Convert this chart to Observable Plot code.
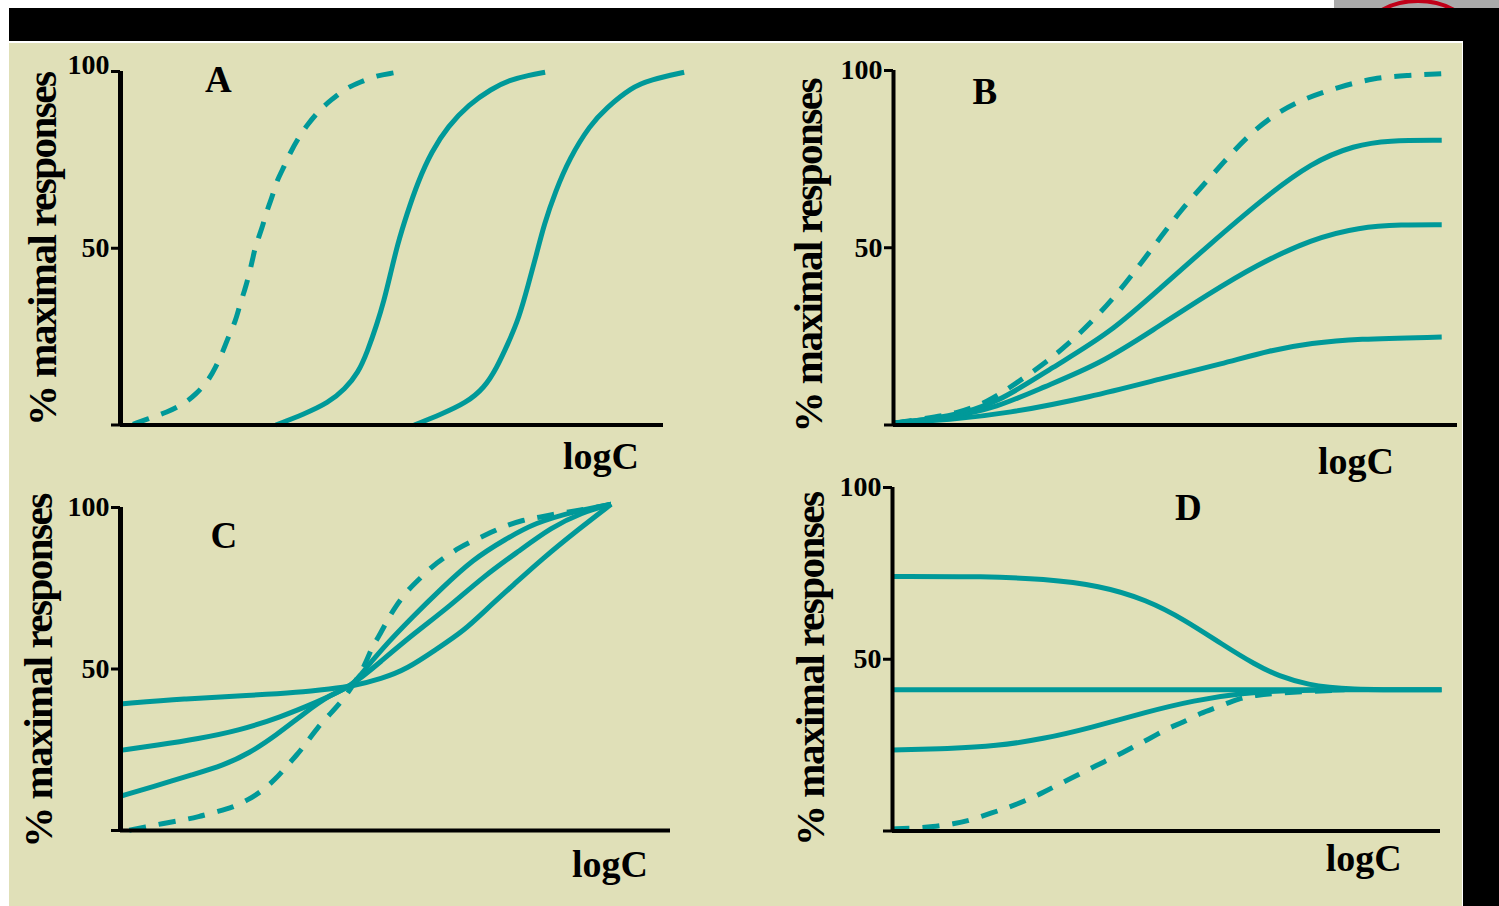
<!DOCTYPE html>
<html>
<head>
<meta charset="utf-8">
<script src="https://cdn.jsdelivr.net/npm/d3@7"></script>
<script src="https://cdn.jsdelivr.net/npm/@observablehq/plot@0.6"></script>
<style>
  html, body { margin: 0; padding: 0; background: #fff; width: 1499px; height: 906px; overflow: hidden; }
  #stage { position: relative; width: 1499px; height: 906px; overflow: hidden; }
  .box { position: absolute; }
  #stage svg { position: absolute; background: transparent; overflow: visible; }
</style>
</head>
<body>
<div id="stage">
  <div class="box" style="left:1334px;top:0;width:165px;height:10px;background:#aaa;overflow:hidden">
    <div class="box" style="left:33px;top:-1px;width:102px;height:60px;border:4px solid #c00018;border-radius:50%;box-sizing:border-box"></div>
  </div>
  <div class="box" style="left:9px;top:8px;width:1490px;height:33px;background:#000"></div>
  <div class="box" style="left:1463px;top:8px;width:36px;height:898px;background:#000"></div>
  <div class="box" style="left:9px;top:41px;width:1453px;height:865px;background:#e0e0b8;border-top:2px solid #fff;border-right:1px solid #fff;box-sizing:content-box"></div>
</div>
<script>
// Values: [logC position on a 0-100 axis, % maximal response]
const yTicks = [0, 50, 100];
const yLabel = "% maximal responses";
const xLabel = "logC";

const aDashed = [[2.3,0.2],[5.7,2.1],[8.4,3.5],[11.7,6],[13.9,8.7],[16.1,12.4],[17.5,16.2],[18.9,20.9],[19.8,24.7],[21.2,29.4],[21.9,33.6],[22.9,38.3],[23.6,42.1],[24.4,47.3],[24.9,51],[26.1,55.7],[26.8,60],[28,64.7],[28.6,68.5],[30.3,73.6],[31.2,76.9],[32.9,81.6],[34.4,84.9],[36.7,89.2],[38.6,91.7],[41.5,95.3],[44,96.9],[47.2,98.9],[50.4,99.6],[51.1,99.9]];
const aMiddle = [[28.6,0],[33.7,3],[38.3,6.3],[41.3,10.1],[43.8,14.8],[45.5,20.9],[47.2,28.4],[48.5,35],[49.7,42.6],[51,51],[52.7,59.5],[54.8,68.9],[57.3,77.4],[60.3,84.5],[64.1,90.6],[68.3,95.1],[71.7,97.6],[75.1,98.9],[78.2,99.8]];
const aRight = [[54.1,0],[59,3],[63.7,6.3],[67,10.5],[69.3,16.2],[71.3,22.8],[73.4,30.3],[75.1,39.7],[76.6,48.2],[78,56.7],[80.1,66.1],[82.7,75.5],[86.5,84.9],[89.4,89.6],[94.1,95.5],[97.5,97.6],[103.8,99.8]];

const bDashed = [[0.3,0.6],[5.3,1.8],[11.2,3.2],[16.6,6.4],[21.6,11.6],[27.1,17.7],[31.7,23.8],[36,30.5],[40.2,38],[43.8,45.5],[47.4,53],[50.9,60.5],[55.1,68],[58.8,74.6],[62.6,81.2],[67.2,87.3],[72.6,92],[78.9,95.3],[85.1,97.9],[91,98.6],[97.2,99.1]];
const bHigh = [[0.3,0.6],[9.9,2.3],[18.3,6],[28.3,16.4],[38.3,25.8],[47.5,38.9],[55.9,50.7],[65.1,63.3],[74.2,74.2],[81.8,78.9],[87.6,80.3],[97.2,80.3]];
const bMid = [[0.3,0.6],[9.9,2.1],[18.3,4.9],[26.6,10.7],[36.7,17.3],[45.9,26.7],[55.9,37],[64.2,45],[74.2,52.5],[82.6,55.8],[90.1,56.5],[97.2,56.5]];
const bLow = [[0.3,0.6],[9.9,1.5],[20,3.2],[35,7.9],[47.5,13.1],[58.4,17.3],[66.8,21.1],[74.2,23.1],[81.8,24.3],[97.2,24.8]];

const cDashed = [[1.6,0.1],[4.5,1.1],[7.8,2.2],[11.2,3.2],[14.1,4.2],[17.4,5.8],[20.4,7.1],[23.3,9.6],[25.8,12.3],[28.3,16.1],[30.1,19.7],[32.4,24],[33.9,27.4],[35.8,31.8],[37.9,35.7],[40.4,40.3],[42.5,45.5],[44.5,51.3],[45.6,56.4],[47,60.1],[48.7,65.7],[50,69.3],[52,74],[54,77.3],[56.6,81.7],[58.7,84.3],[61.6,87.6],[64.1,89.7],[67.5,92.4],[69.6,94.1],[73.3,96.2],[76,96.9],[79.6,98.2],[82.5,98.9],[85.8,99.8],[89.2,101]];
const cLow = [[0,10.6],[5.8,13.5],[13.3,17.4],[18.7,20.2],[23.3,23.8],[28.3,29.5],[33.3,36.2],[38.3,42.3],[42,44.6],[43.3,47.5],[47.5,56.2],[53.3,66.5],[58.3,74.8],[64.1,84],[70,90.2],[75.4,95.3],[82.5,98.8],[89.2,101]];
const cMid = [[0,24.8],[6.6,26.4],[14.1,28.4],[21.6,31],[29.1,35.1],[35.8,39.8],[42,44.6],[47.5,52.6],[53.3,60.9],[60,69.6],[65.8,78.4],[72.5,86.6],[78.3,93.8],[83.8,98.4],[89.2,101]];
const cHigh = [[0,39.2],[11.6,40.8],[23.3,41.8],[32.4,42.8],[38.3,43.9],[42,44.6],[47.5,47],[52.1,50],[57.5,56.2],[62.5,61.9],[66.6,68.6],[71.6,76.3],[76.6,84],[83.3,93.3],[89.2,101]];

const dHigh = [[0,74.1],[17.2,74.1],[27.5,73.4],[37.8,71.5],[46.4,67.3],[53.3,61.5],[60.2,54.3],[66.2,48.4],[70.5,45.1],[75.7,42.6],[82.5,41.1],[100.2,41.1]];
const dFlat = [[0,41.1],[100.2,41.1]];
const dLow = [[0,23.6],[10.3,24],[18.9,24.7],[27.5,26.8],[36.1,30],[46.4,34.7],[55,38],[63.6,40.2],[73.1,41],[82.5,41.1]];
const dDashed = [[0,0.6],[3.9,0.8],[7.3,1.2],[11.2,2.1],[14.2,3.1],[18.1,5.3],[21.1,6.8],[24.8,9.2],[27.5,11.2],[30.9,14.1],[33.9,16.3],[37.3,19.2],[40.2,21.3],[43.8,24.4],[46.6,26.6],[50.3,30],[52.9,31.5],[56.3,34.4],[59.3,36],[63.2,38.6],[66.2,39.5],[70.1,40.2],[82.5,41.1]];

const TEAL = "#009999";
const SERIF = "'Liberation Serif', serif";
const M = {left: 110, right: 45, top: 40, bottom: 62};

function panel(p) {
  const width = p.x1 - p.x0 + M.left + M.right;
  const height = p.y0 - p.y100 + M.top + M.bottom;
  const curve = (d, dashed) => Plot.line(d, {
    x: v => v[0], y: v => v[1], curve: "basis", stroke: TEAL, strokeWidth: 5,
    strokeDasharray: dashed ? "17,13" : null, strokeLinecap: "butt", strokeLinejoin: "round"
  });
  const tickFont = {fontSize: 28, fontWeight: "bold", fontFamily: SERIF, fill: "#000", label: null};
  const chart = Plot.plot({
    width, height,
    marginLeft: M.left, marginRight: M.right, marginTop: M.top, marginBottom: M.bottom,
    style: {background: "transparent", fontFamily: SERIF},
    x: {domain: [0, 100], axis: null},
    y: {domain: [0, 100], axis: null},
    marks: [
      ...p.solid.map(d => curve(d, false)),
      curve(p.dashed, true),
      Plot.ruleX([0], {y1: 0, y2: 100, stroke: "#000", strokeWidth: p.axisWidth}),
      Plot.ruleY([0], {x1: 0, x2: 100, stroke: "#000", strokeWidth: 4}),
      Plot.axisY({ticks: yTicks, tickFormat: () => "", tickSize: 9, strokeWidth: 3, stroke: "#000", label: null}),
      Plot.axisY({ticks: [50], tickSize: 0, tickPadding: 11, dy: p.dy50, ...tickFont}),
      Plot.axisY({ticks: [100], tickSize: 0, tickPadding: 11, dy: p.dy100, ...tickFont}),
      Plot.text([yLabel], {
        frameAnchor: "left", rotate: -90, dx: p.labelDx, dy: p.labelDy, textAnchor: "middle",
        fontSize: 41, fontWeight: "bold", fontFamily: SERIF, fill: "#000"
      }),
      Plot.text([p.letter], {
        x: () => p.letterAt[0], y: () => p.letterAt[1], fontSize: 37, fontWeight: "bold",
        fontFamily: SERIF, fill: "#000"
      }),
      Plot.text([xLabel], {
        x: () => p.logCAt[0], y: () => p.logCAt[1], fontSize: 38, fontWeight: "bold",
        fontFamily: SERIF, fill: "#000"
      })
    ]
  });
  // tighten the long rotated label so its length matches the reference
  d3.select(chart).selectAll("text")
    .filter(function () { return this.textContent === yLabel; })
    .style("letter-spacing", "-1.5px");
  chart.style.left = (p.x0 - M.left) + "px";
  chart.style.top = (p.y100 - M.top) + "px";
  document.getElementById("stage").appendChild(chart);
}

panel({letter: "A", x0: 120, x1: 663, y100: 71, y0: 424.5, axisWidth: 5, solid: [aMiddle, aRight], dashed: aDashed,
  labelDx: -78, labelDy: 1, dy50: 0, dy100: -6, letterAt: [18, 97.5], logCAt: [88.5, -9]});
panel({letter: "B", x0: 892.5, x1: 1456.5, y100: 70, y0: 424.5, axisWidth: 4, solid: [bHigh, bMid, bLow], dashed: bDashed,
  labelDx: -84.5, labelDy: 8, dy50: 0, dy100: 0, letterAt: [16.2, 94], logCAt: [82, -10.5]});
panel({letter: "C", x0: 120, x1: 670, y100: 507, y0: 830, axisWidth: 5, solid: [cLow, cMid, cHigh], dashed: cDashed,
  labelDx: -82, labelDy: 2, dy50: 0, dy100: 0, letterAt: [18.8, 91], logCAt: [89, -10.5]});
panel({letter: "D", x0: 892, x1: 1440, y100: 486.5, y0: 830, axisWidth: 4, solid: [dHigh, dFlat, dLow], dashed: dDashed,
  labelDx: -82, labelDy: 10, dy50: 0, dy100: 0, letterAt: [54, 94], logCAt: [86, -8]});
</script>
</body>
</html>
